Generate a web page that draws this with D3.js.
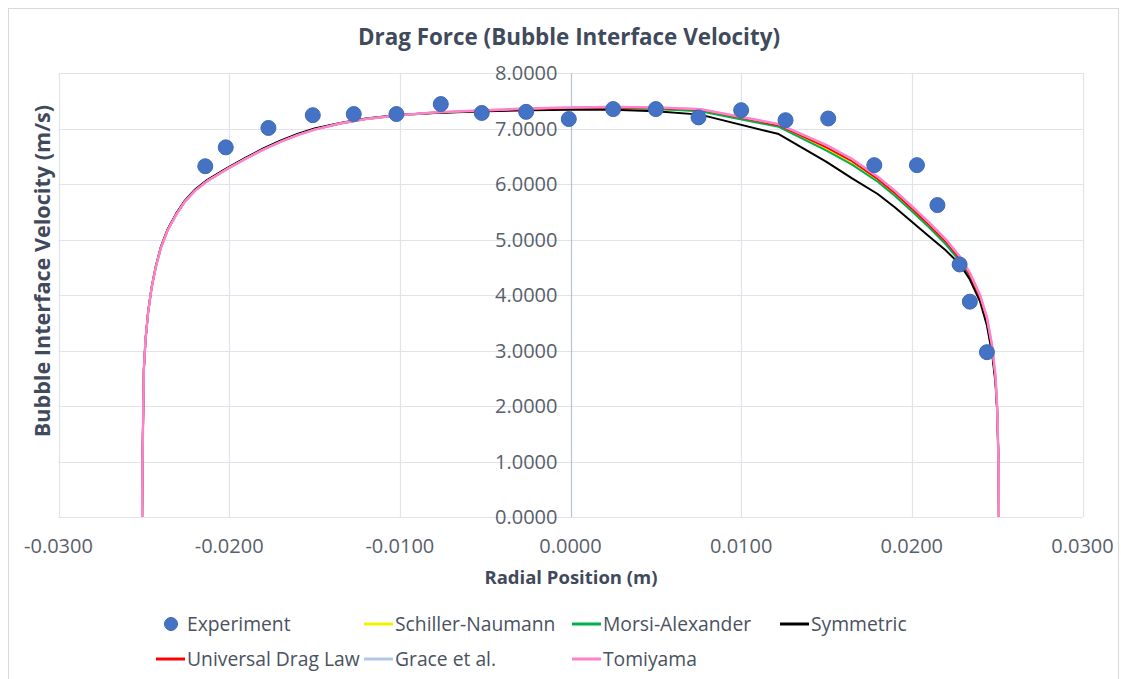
<!DOCTYPE html>
<html>
<head>
<meta charset="utf-8">
<script src="https://cdn.jsdelivr.net/npm/d3@7"></script>
<style>
  body { margin: 0; background: #ffffff; }
  svg text { font-family: "Open Sans", "Noto Sans", sans-serif; }
</style>
</head>
<body>
<svg id="chart" width="1121" height="679"></svg>
<script>
// Radial positions (m) shared by every simulated profile
const radialPosition = [
  -0.0251, -0.02508, -0.02503, -0.0250, -0.0249, -0.02475, -0.02455, -0.0243, -0.0240, -0.0236,
  -0.0231, -0.0226, -0.0220, -0.0213, -0.0205, -0.0200, -0.0190, -0.0180, -0.0170, -0.0160,
  -0.0150, -0.0135, -0.0120, -0.0100, -0.0080, -0.0050, -0.0025, 0.0000,
  0.0025, 0.0050, 0.0076, 0.0122, 0.0150, 0.0165, 0.0180, 0.0190, 0.0200, 0.0210,
  0.0220, 0.0228, 0.0234, 0.0240, 0.0244, 0.0247, 0.0249, 0.0250, 0.02508, 0.0251
];

// Bubble interface velocity (m/s) for each drag model
const schillerNaumann = [
  0, 1.0, 2.0, 2.65, 3.21, 3.69, 4.13, 4.51, 4.86, 5.18,
  5.46, 5.69, 5.89, 6.06, 6.21, 6.30, 6.47, 6.63, 6.77, 6.89,
  6.99, 7.09, 7.17, 7.24, 7.28, 7.32, 7.35, 7.36,
  7.37, 7.35, 7.32, 7.05, 6.63, 6.38, 6.07, 5.82, 5.54, 5.25,
  4.94, 4.64, 4.33, 3.94, 3.54, 3.04, 2.50, 1.95, 1.0, 0
];
const morsiAlexander = [
  0, 1.0, 2.0, 2.65, 3.21, 3.69, 4.13, 4.51, 4.86, 5.18,
  5.46, 5.69, 5.89, 6.06, 6.21, 6.30, 6.47, 6.63, 6.77, 6.89,
  6.99, 7.09, 7.17, 7.24, 7.28, 7.32, 7.35, 7.36,
  7.37, 7.35, 7.31, 7.03, 6.60, 6.35, 6.04, 5.79, 5.51, 5.22,
  4.91, 4.61, 4.30, 3.91, 3.50, 3.00, 2.48, 1.95, 1.0, 0
];
const symmetric = [
  0, 1.0, 2.0, 2.65, 3.20, 3.69, 4.13, 4.52, 4.87, 5.19,
  5.47, 5.70, 5.90, 6.07, 6.22, 6.31, 6.48, 6.64, 6.78, 6.90,
  7.00, 7.10, 7.18, 7.25, 7.28, 7.31, 7.33, 7.34,
  7.34, 7.31, 7.25, 6.90, 6.40, 6.10, 5.82, 5.58, 5.32, 5.06,
  4.80, 4.56, 4.28, 3.88, 3.45, 2.95, 2.42, 1.90, 1.0, 0
];
const universalDragLaw = [
  0, 1.0, 2.0, 2.65, 3.20, 3.68, 4.12, 4.50, 4.85, 5.17,
  5.45, 5.68, 5.88, 6.05, 6.20, 6.29, 6.46, 6.62, 6.76, 6.88,
  6.98, 7.09, 7.17, 7.24, 7.29, 7.32, 7.35, 7.37,
  7.38, 7.37, 7.34, 7.06, 6.66, 6.41, 6.09, 5.84, 5.56, 5.27,
  4.96, 4.66, 4.36, 3.96, 3.56, 3.06, 2.50, 1.95, 1.0, 0
];
const graceEtAl = [
  0, 1.0, 2.0, 2.65, 3.20, 3.68, 4.12, 4.50, 4.85, 5.17,
  5.45, 5.68, 5.88, 6.05, 6.20, 6.29, 6.46, 6.62, 6.76, 6.88,
  6.98, 7.09, 7.17, 7.24, 7.29, 7.33, 7.36, 7.38,
  7.39, 7.38, 7.35, 7.08, 6.70, 6.45, 6.13, 5.88, 5.60, 5.31,
  5.00, 4.70, 4.40, 4.00, 3.60, 3.10, 2.55, 2.00, 1.0, 0
];
const tomiyama = [
  0, 1.0, 2.0, 2.65, 3.20, 3.68, 4.12, 4.50, 4.85, 5.17,
  5.45, 5.68, 5.88, 6.05, 6.20, 6.29, 6.46, 6.62, 6.76, 6.88,
  6.98, 7.09, 7.17, 7.24, 7.29, 7.33, 7.36, 7.38,
  7.39, 7.38, 7.35, 7.08, 6.70, 6.45, 6.13, 5.88, 5.60, 5.31,
  5.00, 4.70, 4.40, 4.00, 3.60, 3.10, 2.55, 2.00, 1.0, 0
];

// Measured bubble interface velocity
const experimentPosition = [
  -0.0214, -0.0202, -0.0177, -0.0151, -0.0127, -0.0102, -0.0076, -0.0052, -0.0026, -0.0001, 0.0025,
  0.0050, 0.0075, 0.0100, 0.0126, 0.0151, 0.0178, 0.0203, 0.0215, 0.0228, 0.0234, 0.0244
];
const experimentVelocity = [
  6.32, 6.66, 7.01, 7.24, 7.26, 7.26, 7.44, 7.28, 7.30, 7.17, 7.35,
  7.35, 7.20, 7.33, 7.15, 7.18, 6.34, 6.34, 5.62, 4.55, 3.88, 2.97
];

// Axis ticks
const xTicks = [-0.03, -0.02, -0.01, 0, 0.01, 0.02, 0.03];
const yTicks = [0, 1, 2, 3, 4, 5, 6, 7, 8];

// Legend entries
const seriesNames = ["Experiment", "Schiller-Naumann", "Morsi-Alexander", "Symmetric",
                     "Universal Drag Law", "Grace et al.", "Tomiyama"];
const seriesColors = ["#4472c4", "#f2f200", "#00b050", "#000000", "#ff0000", "#b4c7e7", "#ff80cc"];

const svg = d3.select("#chart");
const plot = { left: 58.5, right: 1082.5, top: 73, bottom: 517 };

const x = d3.scaleLinear().domain([-0.03, 0.03]).range([plot.left, plot.right]);
const y = d3.scaleLinear().domain([0, 8]).range([plot.bottom, plot.top]);

const fmt = d3.formatLocale({ decimal: ".", thousands: ",", grouping: [3], currency: ["", ""], minus: "-" }).format(".4f");

// Chart frame
svg.append("rect")
  .attr("x", 8.5).attr("y", 8.5).attr("width", 1110).attr("height", 700)
  .attr("fill", "#ffffff").attr("stroke", "#d9d9d9");

// Gridlines
const grid = svg.append("g");
grid.selectAll("line.h").data(yTicks).join("line")
  .attr("x1", plot.left).attr("x2", plot.right)
  .attr("y1", d => Math.round(y(d)) + 0.5).attr("y2", d => Math.round(y(d)) + 0.5)
  .attr("stroke", "#dfe3ea").attr("stroke-width", 1.2);
grid.selectAll("line.v").data(xTicks.filter(d => d !== 0)).join("line")
  .attr("y1", plot.top).attr("y2", plot.bottom)
  .attr("x1", d => Math.round(x(d)) + 0.5).attr("x2", d => Math.round(x(d)) + 0.5)
  .attr("stroke", "#dfe3ea").attr("stroke-width", 1.2);
// Vertical value axis through zero
svg.append("line")
  .attr("x1", Math.round(x(0)) + 0.5).attr("x2", Math.round(x(0)) + 0.5)
  .attr("y1", plot.top).attr("y2", plot.bottom)
  .attr("stroke", "#b9c2d2").attr("stroke-width", 1.2);

// Tick labels
svg.append("g").selectAll("text").data(yTicks).join("text")
  .attr("x", x(0) - 13).attr("y", d => y(d)).attr("dy", "0.36em")
  .attr("text-anchor", "end").attr("font-size", 20).attr("fill", "#595f6a")
  .text(d => fmt(d));
svg.append("g").selectAll("text").data(xTicks).join("text")
  .attr("x", d => x(d)).attr("y", 546).attr("dy", "0.36em")
  .attr("text-anchor", "middle").attr("font-size", 20).attr("fill", "#595f6a")
  .text(d => fmt(d));

// Titles
svg.append("text").attr("x", 569).attr("y", 37).attr("dy", "0.36em")
  .attr("text-anchor", "middle").attr("font-size", 22.4).attr("font-weight", "bold")
  .attr("fill", "#3f4a5c").text("Drag Force (Bubble Interface Velocity)");
svg.append("text").attr("x", 571).attr("y", 577).attr("dy", "0.36em")
  .attr("text-anchor", "middle").attr("font-size", 18.5).attr("font-weight", "bold")
  .attr("fill", "#3f4a5c").text("Radial Position (m)");
svg.append("text").attr("transform", "translate(42,271) rotate(-90)").attr("dy", "0.36em")
  .attr("text-anchor", "middle").attr("font-size", 21.6).attr("font-weight", "bold")
  .attr("fill", "#3f4a5c").text("Bubble Interface Velocity (m/s)");

// Model profiles
const lineGen = d3.line().x(d => x(d[0])).y(d => y(d[1]));
const profiles = [
  { values: schillerNaumann, color: seriesColors[1], width: 2 },
  { values: morsiAlexander, color: seriesColors[2], width: 2 },
  { values: symmetric, color: seriesColors[3], width: 2 },
  { values: universalDragLaw, color: seriesColors[4], width: 2 },
  { values: graceEtAl, color: seriesColors[5], width: 2 },
  { values: tomiyama, color: seriesColors[6], width: 2.4 }
];
svg.append("g").selectAll("path").data(profiles).join("path")
  .attr("d", p => lineGen(radialPosition.map((r, i) => [r, p.values[i]])))
  .attr("fill", "none").attr("stroke", p => p.color).attr("stroke-width", p => p.width)
  .attr("stroke-linejoin", "round");

// Experimental points
svg.append("g").selectAll("circle").data(experimentPosition).join("circle")
  .attr("cx", d => x(d)).attr("cy", (d, i) => y(experimentVelocity[i])).attr("r", 7.5)
  .attr("fill", seriesColors[0]).attr("stroke", "#3f69b5").attr("stroke-width", 1);

// Legend: four columns, two rows
const legendCols = [156, 364, 572, 780];
const legendRows = [624, 659];
const legendSlots = [[0, 0], [0, 1], [0, 2], [0, 3], [1, 0], [1, 1], [1, 2]];
const legend = svg.append("g").selectAll("g").data(seriesNames).join("g")
  .attr("transform", (d, i) => `translate(${legendCols[legendSlots[i][1]]},${legendRows[legendSlots[i][0]]})`);
legend.each(function (d, i) {
  const g = d3.select(this);
  if (i === 0) {
    g.append("circle").attr("cx", 15).attr("cy", 0).attr("r", 6.5)
      .attr("fill", seriesColors[0]).attr("stroke", "#3f69b5");
  } else {
    g.append("line").attr("x1", 0).attr("x2", 29).attr("y1", 0).attr("y2", 0)
      .attr("stroke", seriesColors[i]).attr("stroke-width", 3);
  }
  g.append("text").attr("x", 31).attr("y", 0).attr("dy", "0.36em")
    .attr("font-size", 19.3).attr("fill", "#4a5261").text(d);
});
</script>
</body>
</html>
